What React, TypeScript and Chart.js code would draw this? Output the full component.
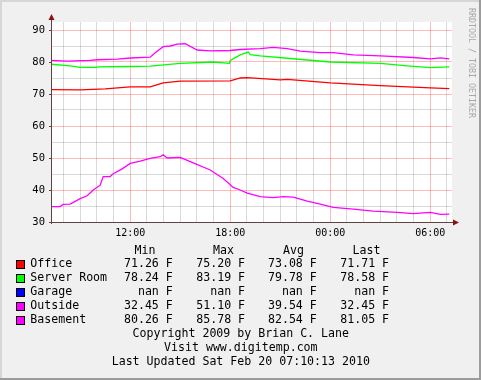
import { useEffect, useRef } from "react";
import { Chart, registerables } from "chart.js";

Chart.register(...registerables);

// ---- data (x = hour of day, continuing past midnight: 24 = 00:00, 30 = 06:00) ----
const officeHours = [7.26, 9.0, 10.5, 12.0, 13.2, 13.98, 15.0, 18.0, 18.6, 19.02, 21.0, 21.42, 24.0, 27.0, 30.0, 31.14];
const officeTemps = [71.35, 71.3, 71.6, 72.2, 72.2, 73.5, 74.0, 74.1, 75.0, 75.1, 74.4, 74.6, 73.5, 72.6, 71.9, 71.7];

const serverHours = [7.26, 8.4, 9.0, 10.0, 10.02, 12.0, 13.2, 15.0, 16.98, 17.95, 18.0, 18.6, 19.08, 19.2, 19.8, 21.6, 24.0, 27.0, 28.62, 30.0, 31.14];
const serverTemps = [79.3, 78.8, 78.3, 78.3, 78.5, 78.6, 78.7, 79.6, 80.0, 79.6, 80.5, 82.2, 83.1, 82.3, 81.9, 81.1, 80.0, 79.6, 78.8, 78.25, 78.5];

const garageHours: number[] = [];
const garageTemps: number[] = [];

const outsideHours = [7.26, 7.8, 7.98, 8.4, 9.0, 9.42, 9.78, 10.2, 10.38, 10.8, 10.98, 11.52, 12.0, 12.6, 13.2, 13.8, 13.98, 14.22, 15.0, 15.78, 16.8, 17.58, 18.18, 18.6, 19.02, 19.8, 20.58, 21.18, 21.78, 22.62, 23.4, 24.18, 25.38, 26.58, 28.02, 28.98, 30.0, 30.6, 31.14];
const outsideTemps = [34.8, 34.8, 35.5, 35.6, 37.3, 38.2, 40.0, 41.5, 44.2, 44.2, 45.1, 46.6, 48.3, 49.0, 49.9, 50.4, 51.0, 50.0, 50.2, 48.5, 46.25, 43.6, 40.8, 40.0, 39.0, 37.9, 37.6, 37.9, 37.8, 36.5, 35.6, 34.6, 34.0, 33.4, 33.0, 32.6, 33.0, 32.4, 32.45];

const basementHours = [7.26, 8.22, 9.6, 10.02, 11.22, 12.0, 13.2, 13.5, 13.98, 14.4, 14.82, 15.3, 16.02, 16.8, 18.0, 18.6, 19.8, 20.58, 21.42, 22.2, 23.4, 24.18, 25.38, 27.0, 28.98, 30.0, 30.6, 31.14];
const basementTemps = [80.5, 80.25, 80.5, 80.7, 80.9, 81.25, 81.5, 82.9, 84.8, 85.0, 85.6, 85.7, 83.75, 83.5, 83.6, 83.9, 84.2, 84.6, 84.2, 83.4, 82.9, 82.9, 82.2, 81.9, 81.4, 81.0, 81.3, 80.95];

const seriesNames = ["Office", "Server Room", "Garage", "Outside", "Basement"];
const seriesColors = ["#ff0000", "#00ff00", "#0000ff", "#ff00ff", "#ff00ff"];
const minValues = [71.26, 78.24, NaN, 32.45, 80.26];
const maxValues = [75.2, 83.19, NaN, 51.1, 85.78];
const avgValues = [73.08, 79.78, NaN, 39.54, 82.54];
const lastValues = [71.71, 78.58, NaN, 32.45, 81.05];
const statHeaders = ["Min", "Max", "Avg", "Last"];

const yTicks = [30, 35, 40, 45, 50, 55, 60, 65, 70, 75, 80, 85, 90];
const xTicks = [8, 9, 10, 11, 12, 13, 14, 15, 16, 17, 18, 19, 20, 21, 22, 23, 24, 25, 26, 27, 28, 29, 30, 31];
const xMajorLabels: Record<number, string> = { 12: "12:00", 18: "18:00", 24: "00:00", 30: "06:00" };

const footerLines = [
  "Copyright 2009 by Brian C. Lane",
  "Visit www.digitemp.com",
  "Last Updated Sat Feb 20 07:10:13 2010",
];
const watermark = "RRDTOOL / TOBI OETIKER";

const MONO = '"DejaVu Sans Mono", monospace';

function pts(hours: number[], temps: number[]) {
  return hours.map((h, i) => ({ x: h, y: temps[i] }));
}

function fmt(v: number) {
  return (isNaN(v) ? "nan" : v.toFixed(2)) + " F";
}

const decorPlugin = {
  id: "rrdDecor",
  beforeDraw(chart: any) {
    const { ctx, width, height, chartArea } = chart;
    ctx.save();
    ctx.fillStyle = "#f0f0f0";
    ctx.fillRect(0, 0, width, height);
    // 3D border
    ctx.fillStyle = "#d6d6d6";
    ctx.fillRect(0, 0, width, 2);
    ctx.fillRect(0, 0, 2, height);
    ctx.fillStyle = "#9c9c9c";
    ctx.fillRect(width - 2, 0, 2, height);
    ctx.fillRect(0, height - 2, width, 2);
    // canvas
    ctx.fillStyle = "#ffffff";
    ctx.fillRect(chartArea.left, chartArea.top, chartArea.right - chartArea.left, chartArea.bottom - chartArea.top);
    ctx.restore();
  },
  afterDraw(chart: any) {
    const { ctx, chartArea } = chart;
    const yScale = chart.scales.y;
    const L = chartArea.left;
    const B = chartArea.bottom;
    const R = chartArea.right;
    const T = chartArea.top;
    ctx.save();
    // axes
    ctx.strokeStyle = "#5c4444";
    ctx.lineWidth = 1;
    ctx.beginPath();
    ctx.moveTo(L + 0.5, B + 2);
    ctx.lineTo(L + 0.5, T - 3);
    ctx.moveTo(L - 2, B + 0.5);
    ctx.lineTo(R + 2, B + 0.5);
    // y tick marks
    yTicks.forEach((t) => {
      if (t % 10 === 0) {
        const py = Math.round(yScale.getPixelForValue(t)) + 0.5;
        ctx.moveTo(L - 2, py);
        ctx.lineTo(L, py);
      }
    });
    ctx.stroke();
    // arrows
    ctx.fillStyle = "#8b1010";
    ctx.beginPath();
    ctx.moveTo(L + 0.5, T - 8);
    ctx.lineTo(L - 2.5, T - 2);
    ctx.lineTo(L + 3.5, T - 2);
    ctx.closePath();
    ctx.fill();
    ctx.beginPath();
    ctx.moveTo(R + 7, B + 0.5);
    ctx.lineTo(R + 1, B - 2.5);
    ctx.lineTo(R + 1, B + 3.5);
    ctx.closePath();
    ctx.fill();

    // legend
    ctx.fillStyle = "#000000";
    ctx.font = "11.6px " + MONO;
    ctx.textBaseline = "middle";
    ctx.textAlign = "left";
    const headerX = [134.5, 213, 283, 352.5];
    statHeaders.forEach((h, i) => ctx.fillText(h, headerX[i], 250.7));
    const colRight = [172.8, 245.1, 316.8, 389.1];
    seriesNames.forEach((name, i) => {
      const cy = 264.3 + i * 14;
      ctx.fillStyle = seriesColors[i];
      ctx.fillRect(16, 260 + i * 14, 9, 9);
      ctx.strokeStyle = "#000000";
      ctx.lineWidth = 1;
      ctx.strokeRect(16.5, 260.5 + i * 14, 8, 8);
      ctx.fillStyle = "#000000";
      ctx.textAlign = "left";
      ctx.fillText(name, 30.3, cy);
      ctx.textAlign = "right";
      const vals = [minValues[i], maxValues[i], avgValues[i], lastValues[i]];
      vals.forEach((v, j) => ctx.fillText(fmt(v), colRight[j], cy));
    });
    ctx.textAlign = "center";
    footerLines.forEach((line, i) => ctx.fillText(line, 240.8, 334.3 + i * 14));

    // watermark
    ctx.save();
    ctx.translate(470.8, 8);
    ctx.rotate(Math.PI / 2);
    ctx.fillStyle = "#a8a8a8";
    ctx.font = "8.3px " + MONO;
    ctx.textAlign = "left";
    ctx.textBaseline = "middle";
    ctx.fillText(watermark, 0, 0);
    ctx.restore();

    ctx.restore();
  },
};

export default function App() {
  const ref = useRef<HTMLCanvasElement | null>(null);

  useEffect(() => {
    document.body.style.margin = "0";
    const canvas = ref.current;
    if (!canvas) return;
    const mk = (label: string, color: string, h: number[], t: number[]) => ({
      label,
      data: pts(h, t),
      borderColor: color,
      backgroundColor: color,
      borderWidth: 1.3,
      pointRadius: 0,
      tension: 0,
      fill: false,
    });
    const chart = new Chart(canvas, {
      type: "line",
      data: {
        datasets: [
          mk(seriesNames[0], seriesColors[0], officeHours, officeTemps),
          mk(seriesNames[1], seriesColors[1], serverHours, serverTemps),
          mk(seriesNames[2], seriesColors[2], garageHours, garageTemps),
          mk(seriesNames[3], seriesColors[3], outsideHours, outsideTemps),
          mk(seriesNames[4], seriesColors[4], basementHours, basementTemps),
        ],
      },
      options: {
        animation: false,
        responsive: false,
        devicePixelRatio: 1,
        layout: { padding: { left: 0, top: 22, right: 29, bottom: 0 } },
        plugins: {
          legend: { display: false },
          tooltip: { enabled: false },
          title: { display: false },
        },
        scales: {
          x: {
            type: "linear",
            min: 7.25,
            max: 31.3,
            afterBuildTicks: (scale: any) => {
              scale.ticks = xTicks.map((v) => ({ value: v }));
            },
            afterFit: (scale: any) => {
              scale.height = 158;
            },
            ticks: {
              autoSkip: false,
              maxRotation: 0,
              minRotation: 0,
              padding: 5,
              color: "#000000",
              font: { family: MONO, size: 10 },
              callback: (v: any) => xMajorLabels[Number(v)] ?? "",
            },
            grid: {
              drawTicks: false,
              lineWidth: 1,
              color: (c: any) => (c.tick && c.tick.value % 6 === 0 ? "rgba(255,0,0,0.27)" : "rgba(130,130,130,0.3)"),
            },
            border: { display: false },
          },
          y: {
            type: "linear",
            min: 30,
            max: 92.5,
            afterBuildTicks: (scale: any) => {
              scale.ticks = yTicks.map((v) => ({ value: v }));
            },
            afterFit: (scale: any) => {
              scale.width = 51;
            },
            ticks: {
              autoSkip: false,
              padding: 6,
              color: "#000000",
              font: { family: MONO, size: 10.5 },
              callback: (v: any) => (Number(v) % 10 === 0 ? String(v) : ""),
            },
            grid: {
              drawTicks: false,
              lineWidth: 1,
              color: (c: any) => (c.tick && c.tick.value % 10 === 0 ? "rgba(255,0,0,0.27)" : "rgba(130,130,130,0.3)"),
            },
            border: { display: false },
          },
        },
      },
      plugins: [decorPlugin],
    } as any);
    return () => chart.destroy();
  }, []);

  return <canvas ref={ref} width={481} height={380} style={{ display: "block", width: 481, height: 380 }} />;
}
